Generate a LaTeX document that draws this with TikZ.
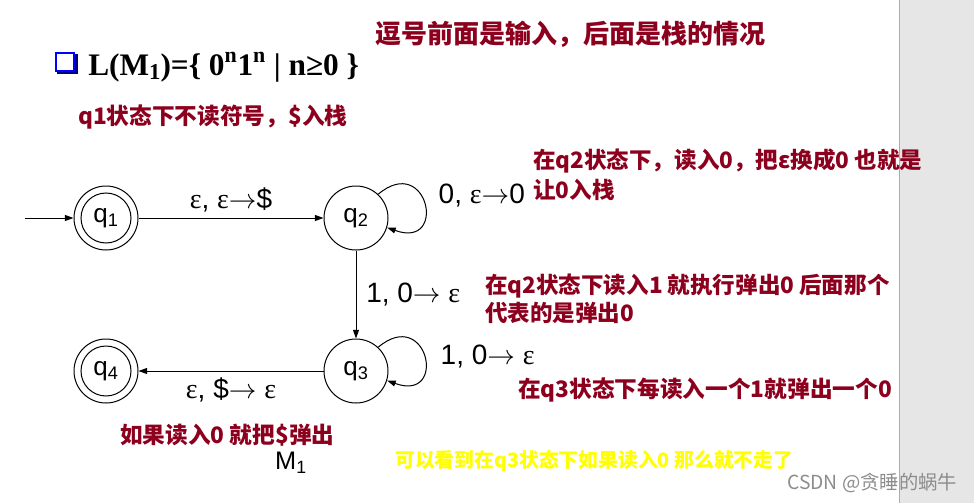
\documentclass[tikz,border=0pt]{standalone}
\usepackage{fontspec}
\setmainfont{Liberation Sans}
\newfontfamily\serif{Liberation Serif}
\newfontfamily\cjk{Noto Sans CJK SC}
\usetikzlibrary{arrows.meta}

\definecolor{notered}{RGB}{140,0,30}
\definecolor{hintyellow}{RGB}{255,255,0}
\definecolor{sidegray}{RGB}{230,230,230}

\newcommand{\eps}{{\serif ε}}
\newcommand{\goes}{$\rightarrow$}

\tikzset{
  stnode/.style={circle, draw, minimum size=48pt, inner sep=0pt, line width=0.75pt,
                 font=\fontsize{19.5}{19.5}\selectfont},
  acc/.style={stnode, path picture={\draw[line width=0.75pt]
                 (path picture bounding box.center) circle (18.75pt);}},
  arr/.style={line width=0.75pt, -{Triangle[length=6.5pt,width=4.5pt]}},
  lab/.style={font=\fontsize{21}{21}\selectfont},
  note/.style={anchor=west, align=left, inner sep=0pt, text=notered,
               font=\cjk\bfseries\fontsize{17}{21}\selectfont},
}

\begin{document}
\begin{tikzpicture}[x=0.75pt, y=0.75pt]
  \useasboundingbox (0,0) rectangle (974,-503);
  \fill[sidegray] (899,0) rectangle (974,-503);
  \draw[sidegray!75!black, line width=0.5pt] (899,0) -- (899,-503);

  % title line
  \fill[blue!50!black] (57,-54) rectangle (78,-74);
  \filldraw[fill=white, draw=blue, line width=2pt] (56,-53) rectangle (74,-71);
  \node[anchor=base west, inner sep=0pt, font=\serif\bfseries\fontsize{23.5}{24}\selectfont]
    (title) at (88,-75)
    {L(M\raisebox{-0.3ex}{\fontsize{17}{17}\selectfont 1})=\{ 0\textsuperscript{n}1\textsuperscript{n} | n≥0 \}};
  \node[note, font=\cjk\bfseries\fontsize{19.5}{22}\selectfont] (remark) at (375,-34)
    {逗号前面是输入，后面是栈的情况};

  % states
  \node[acc] (q1) at (106,-218) {q\textsubscript{1}};
  \node[stnode] (q2) at (356,-218) {q\textsubscript{2}};
  \node[stnode] (q3) at (356,-371) {q\textsubscript{3}};
  \node[acc] (q4) at (106,-371) {q\textsubscript{4}};
  \coordinate (start) at (25,-218);

  % transitions
  \draw[arr] (start) -- (q1);
  \draw[arr] (q1) -- node[lab, above=1pt] {\eps, \eps\goes\$} (q2);
  \draw[arr] (q2.47) .. controls +(40:65) and +(-20:65) .. (q2.-17);
  \node[lab, anchor=west] (l22) at (434,-196) {0, \eps\goes 0};
  \draw[arr] (q2) -- node[lab, right=4pt] {1, 0\goes\ \eps} (q3);
  \draw[arr] (q3.47) .. controls +(40:65) and +(-20:65) .. (q3.-17);
  \node[lab, anchor=west] (l33) at (436,-357) {1, 0\goes\ \eps};
  \draw[arr] (q3) -- node[lab, below=1pt] {\eps, \$\goes\ \eps} (q4);
  \node[font=\fontsize{19}{19}\selectfont] (m1) at (291,-463) {M\textsubscript{1}};

  % notes
  \node[note] (n1) at (78,-117) {q1状态下不读符号，\$入栈};
  \node[note, font=\cjk\bfseries\fontsize{16.9}{22.5}\selectfont] (n2) at (533,-175)
    {在q2状态下，读入0，把ε换成0 也就是\\让0入栈};
  \node[note, font=\cjk\bfseries\fontsize{16.9}{21}\selectfont] (n3) at (485,-299)
    {在q2状态下读入1 就执行弹出0 后面那个\\代表的是弹出0};
  \node[note] (n4) at (518,-390) {在q3状态下每读入一个1就弹出一个0};
  \node[note] (n5) at (120,-435) {如果读入0 就把\$弹出};
  \node[note, text=hintyellow, font=\cjk\bfseries\fontsize{14.85}{18}\selectfont]
    (hint) at (395,-461) {可以看到在q3状态下如果读入0 那么就不走了};
  \node[note, text=black!45, font=\cjk\fontsize{14.5}{16}\selectfont]
    (mark) at (787,-483) {CSDN @贪睡的蜗牛};
\end{tikzpicture}
\end{document}
